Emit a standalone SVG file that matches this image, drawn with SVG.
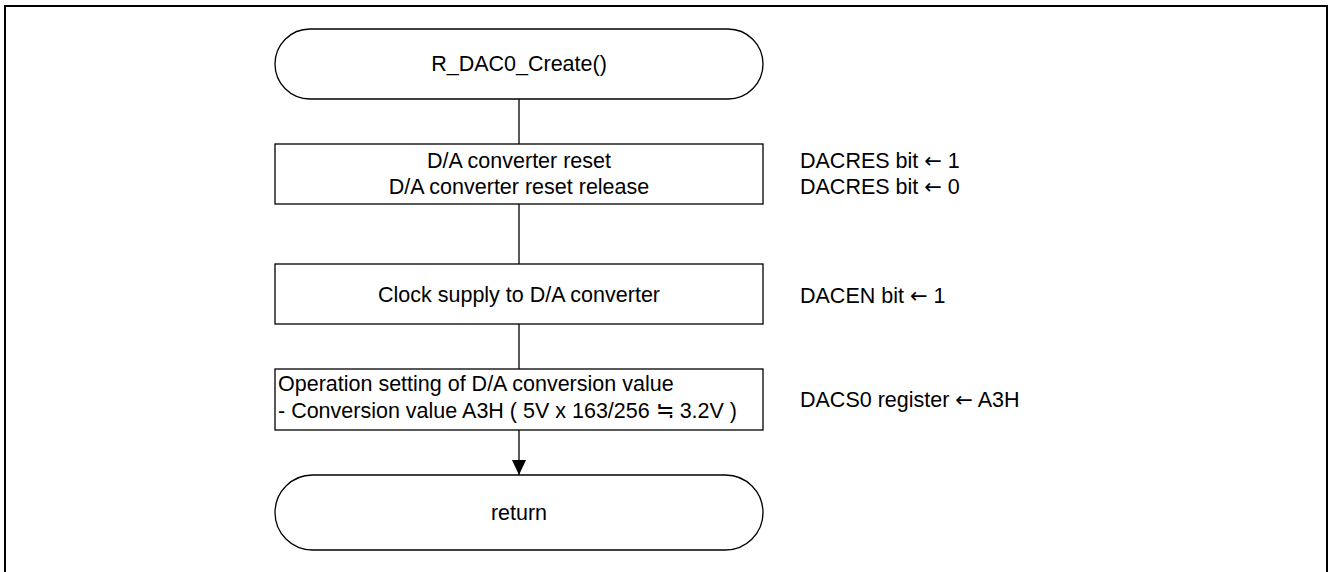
<svg xmlns="http://www.w3.org/2000/svg" width="1328" height="572" viewBox="0 0 1328 572">
<style>
text{font-family:"Liberation Sans",Arial,sans-serif;font-size:21.5px;fill:#000}
.c{text-anchor:middle}
.j{font-family:"Noto Sans CJK JP","Liberation Sans",sans-serif}
.a{font-family:"DejaVu Sans","Liberation Sans",sans-serif;font-size:21px}
.s{fill:#fff;stroke:#000;stroke-width:1.3}
.ln{stroke:#000;stroke-width:1.3;fill:none}
</style>
<defs>
<marker id="ah" markerWidth="16" markerHeight="14" refX="15" refY="7" orient="auto" markerUnits="userSpaceOnUse">
<path d="M0,0 L15,7 L0,14 Z" fill="#000"/>
</marker>
</defs>
<rect x="5" y="6" width="1322" height="580" fill="none" stroke="#000" stroke-width="2"/>
<g id="connectors">
<line class="ln" x1="519" y1="99" x2="519" y2="144"/>
<line class="ln" x1="519" y1="204" x2="519" y2="264"/>
<line class="ln" x1="519" y1="324" x2="519" y2="369"/>
<line class="ln" x1="519" y1="430" x2="519" y2="475" marker-end="url(#ah)"/>
</g>
<g id="start">
<rect class="s" x="275" y="29" width="488" height="70" rx="35" ry="35"/>
<text class="c" x="519" y="71">R_DAC0_Create()</text>
</g>
<g id="reset">
<rect class="s" x="275" y="144" width="488" height="60"/>
<text class="c" x="519" y="168">D/A converter reset</text>
<text class="c" x="519" y="194">D/A converter reset release</text>
<text x="800" y="168">DACRES bit <tspan class="a">←</tspan> 1</text>
<text x="800" y="194">DACRES bit <tspan class="a">←</tspan> 0</text>
</g>
<g id="clock">
<rect class="s" x="275" y="264" width="488" height="60"/>
<text class="c" x="519" y="302">Clock supply to D/A converter</text>
<text x="800" y="303">DACEN bit <tspan class="a">←</tspan> 1</text>
</g>
<g id="dacs">
<rect class="s" x="275" y="369" width="488" height="61"/>
<text x="278" y="391">Operation setting of D/A conversion value</text>
<text x="278" y="418">- Conversion value A3H ( 5V x 163/256 <tspan class="j">≒</tspan> 3.2V )</text>
<text x="800" y="407">DACS0 register <tspan class="a">←</tspan> A3H</text>
</g>
<g id="return">
<rect class="s" x="275" y="475" width="488" height="75" rx="37.5" ry="37.5"/>
<text class="c" x="519" y="520">return</text>
</g>
</svg>
